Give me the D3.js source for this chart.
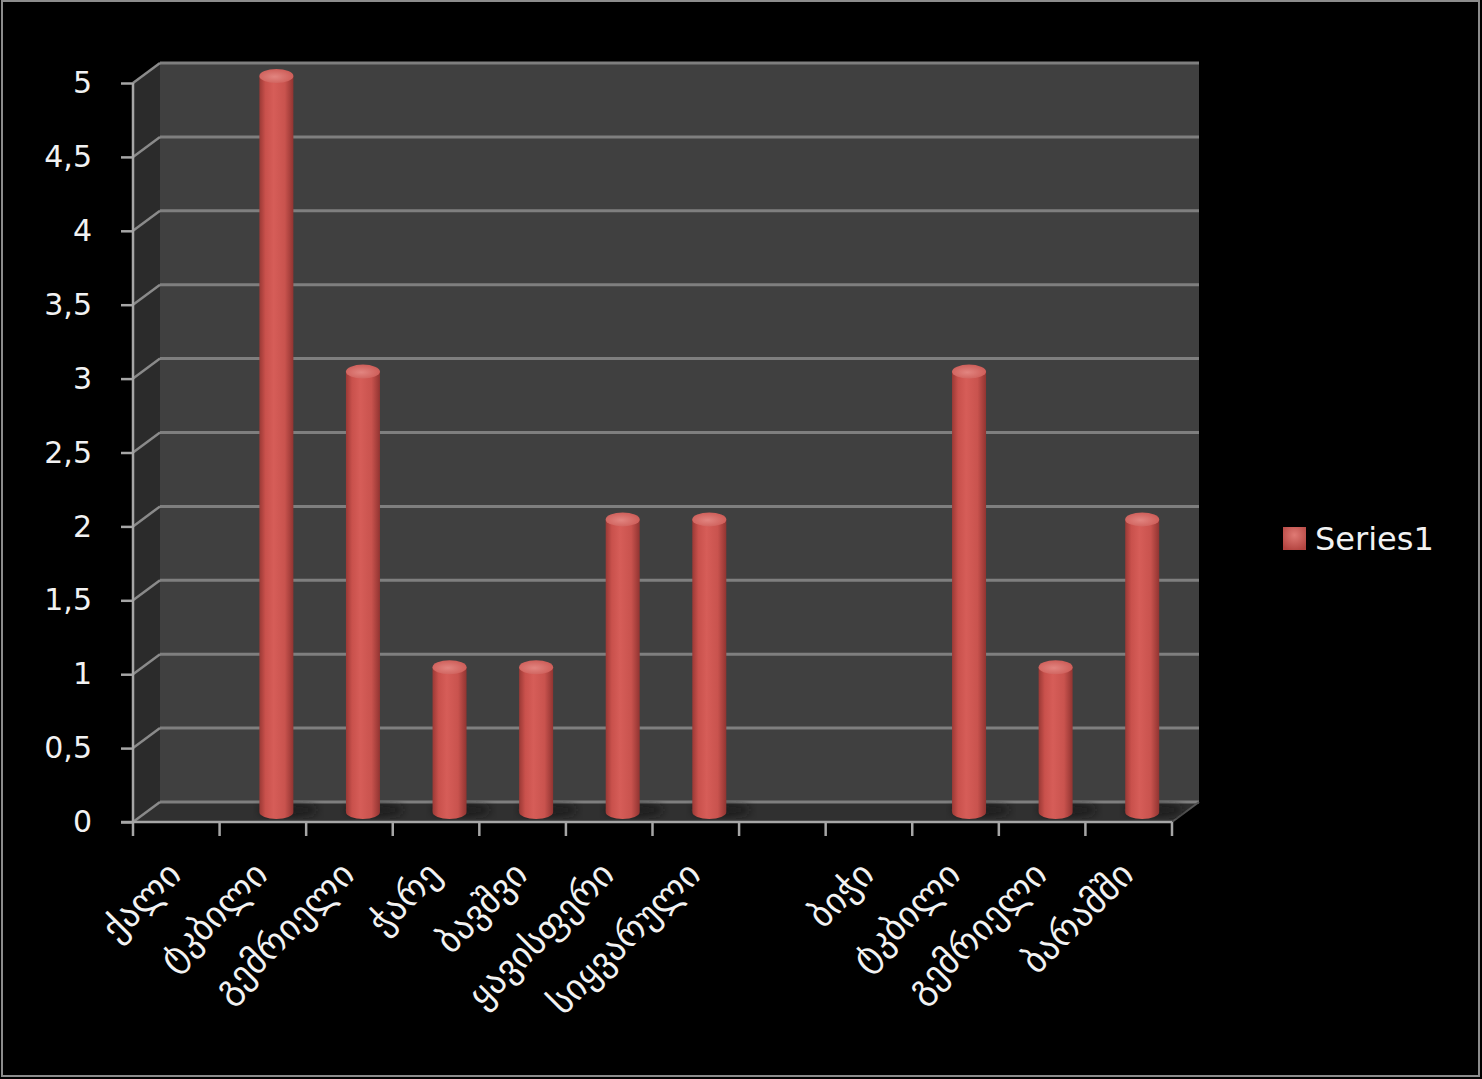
<!DOCTYPE html>
<html>
<head>
<meta charset="utf-8">
<script src="https://cdn.jsdelivr.net/npm/d3@7"></script>
<style>
  body { margin: 0; background: #000; }
  svg { display: block; }
</style>
</head>
<body>
<div id="chart"></div>
<script>
// chart data
var categories = ["ქალი", "ტკბილი", "გემრიელი", "ჭარე", "ბავშვი", "ყავისფერი",
                  "სიყვარული", "", "ბიჭი", "ტკბილი", "გემრიელი", "ბარამში"];
var values = [null, 5, 3, 1, 1, 2, 2, null, null, 3, 1, 2];
var yTicks = [0, 0.5, 1, 1.5, 2, 2.5, 3, 3.5, 4, 4.5, 5];
var seriesName = "Series1";

var W = 1482, H = 1079;
// front plane of the 3d box
var plotLeft = 133, plotRight = 1172, plotTop = 83, plotBottom = 822;
// depth offset of the back wall
var dx = 27, dy = -20;

var x = d3.scaleBand()
    .domain(d3.range(categories.length))
    .range([plotLeft, plotRight]);

var y = d3.scaleLinear()
    .domain([0, 5])
    .range([plotBottom, plotTop]);

var svg = d3.select("#chart")
  .append("svg")
    .attr("width", W)
    .attr("height", H);

svg.append("rect")
    .attr("x", 0).attr("y", 0)
    .attr("width", W).attr("height", H)
    .attr("fill", "#000");

svg.append("rect")
    .attr("x", 2).attr("y", 1)
    .attr("width", W - 5).attr("height", H - 4)
    .attr("fill", "none")
    .attr("stroke", "#8c8c8c")
    .attr("stroke-width", 2);

var defs = svg.append("defs");

var grad = defs.append("linearGradient")
    .attr("id", "cyl")
    .attr("x1", "0%").attr("x2", "100%")
    .attr("y1", "0%").attr("y2", "0%");
[[0, "#9b3935"], [0.18, "#c9514c"], [0.42, "#d65d58"], [0.75, "#c9534e"], [1, "#913431"]]
  .forEach(function(s) {
    grad.append("stop").attr("offset", s[0]).attr("stop-color", s[1]);
  });

var capGrad = defs.append("radialGradient")
    .attr("id", "cap")
    .attr("cx", "45%").attr("cy", "55%").attr("r", "60%");
capGrad.append("stop").attr("offset", 0).attr("stop-color", "#e28580");
capGrad.append("stop").attr("offset", 1).attr("stop-color", "#cc5b56");

defs.append("filter")
    .attr("id", "blur")
  .append("feGaussianBlur")
    .attr("stdDeviation", 4);

var legGrad = defs.append("radialGradient")
    .attr("id", "leg")
    .attr("cx", "50%").attr("cy", "35%").attr("r", "70%");
legGrad.append("stop").attr("offset", 0).attr("stop-color", "#e07a74");
legGrad.append("stop").attr("offset", 1).attr("stop-color", "#b2433f");

// side wall
var y0 = y(0), y5 = y(5);
svg.append("polygon")
    .attr("points", [[plotLeft, y5], [plotLeft + dx, y5 + dy], [plotLeft + dx, y0 + dy], [plotLeft, y0]].join(" "))
    .attr("fill", "#2b2b2b");

// back wall
svg.append("rect")
    .attr("x", plotLeft + dx)
    .attr("y", y5 + dy)
    .attr("width", plotRight - plotLeft)
    .attr("height", y0 - y5)
    .attr("fill", "#404040");

// floor
svg.append("polygon")
    .attr("points", [[plotLeft, y0], [plotLeft + dx, y0 + dy], [plotRight + dx, y0 + dy], [plotRight, y0]].join(" "))
    .attr("fill", "#303030");

// gridlines on back and side wall
var grid = svg.append("g");
grid.selectAll("line.back")
  .data(yTicks)
  .enter().append("line")
    .attr("class", "back")
    .attr("x1", plotLeft + dx)
    .attr("x2", plotRight + dx)
    .attr("y1", function(d) { return y(d) + dy; })
    .attr("y2", function(d) { return y(d) + dy; })
    .attr("stroke", "#7f7f7f")
    .attr("stroke-width", 3);

grid.selectAll("line.side")
  .data(yTicks)
  .enter().append("line")
    .attr("class", "side")
    .attr("x1", plotLeft)
    .attr("x2", plotLeft + dx)
    .attr("y1", function(d) { return y(d); })
    .attr("y2", function(d) { return y(d) + dy; })
    .attr("stroke", "#8a8a8a")
    .attr("stroke-width", 2.5);

// floor right edge
svg.append("line")
    .attr("x1", plotRight).attr("y1", y0)
    .attr("x2", plotRight + dx).attr("y2", y0 + dy)
    .attr("stroke", "#555")
    .attr("stroke-width", 2);

// bars (cylinders)
var r = 17, ry = 7;
var barData = values.map(function(v, i) { return {i: i, v: v}; })
    .filter(function(d) { return d.v; });

function cx(d) { return x(d.i) + x.bandwidth() / 2 + dx / 2; }

svg.append("g").selectAll("ellipse")
  .data(barData)
  .enter().append("ellipse")
    .attr("cx", function(d) { return cx(d) + 12; })
    .attr("cy", y0 + dy / 2 - 2)
    .attr("rx", r + 12)
    .attr("ry", 7)
    .attr("fill", "#181818")
    .attr("opacity", 0.7)
    .attr("filter", "url(#blur)");

var bars = svg.append("g").selectAll("g")
  .data(barData)
  .enter().append("g");

bars.append("path")
    .attr("d", function(d) {
      var c = cx(d), yt = y(d.v) + dy / 2 + 3, yb = y0 + dy / 2;
      return "M" + (c - r) + "," + yt +
             "L" + (c - r) + "," + yb +
             "A" + r + "," + ry + " 0 0 0 " + (c + r) + "," + yb +
             "L" + (c + r) + "," + yt + "Z";
    })
    .attr("fill", "url(#cyl)");

bars.append("ellipse")
    .attr("cx", cx)
    .attr("cy", function(d) { return y(d.v) + dy / 2 + 3; })
    .attr("rx", r)
    .attr("ry", ry)
    .attr("fill", "url(#cap)");

// y axis
var yAxis = svg.append("g")
    .attr("transform", "translate(" + plotLeft + ",0)")
    .call(d3.axisLeft(y)
      .tickValues(yTicks)
      .tickSize(12)
      .tickPadding(29)
      .tickFormat(function(d) { return String(d).replace(".", ","); }));

yAxis.select(".domain")
    .attr("d", "M0," + y5 + "V" + y0)
    .attr("stroke", "#a6a6a6")
    .attr("stroke-width", 2.5);
yAxis.selectAll(".tick line")
    .attr("stroke", "#a6a6a6")
    .attr("stroke-width", 2.5);
yAxis.selectAll("text")
    .attr("fill", "#f2f2f2")
    .style("font-family", "DejaVu Sans, sans-serif")
    .style("font-size", "30px");

// x axis
var xAxis = svg.append("g")
    .attr("transform", "translate(0," + y0 + ")")
    .call(d3.axisBottom(x)
      .tickSize(0)
      .tickFormat(function(i) { return categories[i]; }));

xAxis.select(".domain")
    .attr("d", "M" + (plotLeft - 12) + ",0H" + plotRight)
    .attr("stroke", "#a6a6a6")
    .attr("stroke-width", 2.5);

xAxis.selectAll("text")
    .attr("fill", "#f2f2f2")
    .style("font-family", "DejaVu Sans, sans-serif")
    .style("font-size", "36px")
    .attr("text-anchor", "end")
    .attr("transform", "translate(-2,46) rotate(-45)")
    .attr("dy", "0.35em")
    .attr("y", 0);

xAxis.selectAll("line.bound")
  .data(d3.range(categories.length + 1))
  .enter().append("line")
    .attr("class", "bound")
    .attr("x1", function(i) { return plotLeft + i * x.step(); })
    .attr("x2", function(i) { return plotLeft + i * x.step(); })
    .attr("y1", 0)
    .attr("y2", 14)
    .attr("stroke", "#a6a6a6")
    .attr("stroke-width", 2.5);

// legend
var legend = svg.append("g")
    .attr("transform", "translate(1283,527)");

legend.append("rect")
    .attr("width", 23)
    .attr("height", 23)
    .attr("fill", "url(#leg)");

legend.append("text")
    .attr("x", 32)
    .attr("y", 12)
    .attr("dy", "0.35em")
    .attr("fill", "#f2f2f2")
    .style("font-family", "DejaVu Sans, sans-serif")
    .style("font-size", "32px")
    .text(seriesName);
</script>
</body>
</html>
